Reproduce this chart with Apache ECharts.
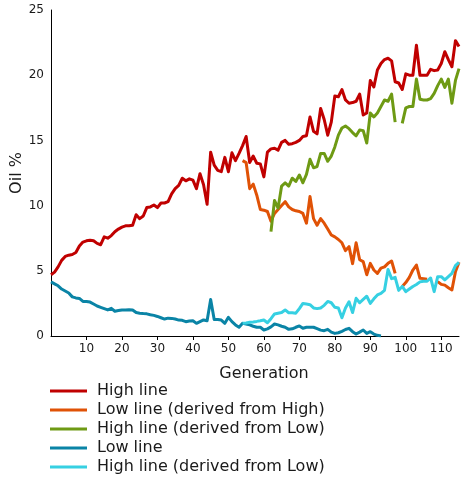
<!DOCTYPE html>
<html>
<head>
<meta charset="utf-8">
<script src="https://cdn.jsdelivr.net/npm/echarts@6/dist/echarts.min.js"></script>
<style>
  html, body { margin: 0; padding: 0; background: #fff; }
  #chart { width: 467px; height: 480px; }
</style>
</head>
<body>
<div id="chart"></div>
<script>
// generation where each series starts
const highStart = 0;
const lowFromHighStart = 54;
const highFromLowStart = 62;
const lowStart = 0;
const highFromLow2Start = 54;

// High line, generations 0..115
const highLine = [
  4.7, 4.9, 5.3, 5.8, 6.1, 6.2, 6.25, 6.4, 6.9, 7.2,
  7.3, 7.35, 7.3, 7.1, 7.0, 7.6, 7.5, 7.7, 8.0, 8.2,
  8.35, 8.45, 8.45, 8.5, 9.3, 9.0, 9.2, 9.85, 9.9, 10.05,
  9.85, 10.2, 10.2, 10.3, 10.9, 11.3, 11.55, 12.1, 11.9, 12.05,
  11.95, 11.3, 12.45, 11.6, 10.1, 14.1, 13.1, 12.7, 12.6, 13.7,
  12.6, 14.05, 13.45, 14.0, 14.6, 15.3, 13.3, 13.8, 13.25, 13.2,
  12.2, 14.1, 14.35, 14.4, 14.25, 14.85, 15.0, 14.7, 14.75, 14.85,
  15.0, 15.3, 15.35, 16.8, 15.7, 15.5, 17.45, 16.6, 15.4, 16.4,
  18.4, 18.35, 18.9, 18.1, 17.85, 17.9, 18.0, 18.55, 16.95, 17.1,
  19.6, 19.1, 20.4, 20.9, 21.2, 21.3, 21.1, 19.5, 19.4, 18.9,
  20.1, 20.0, 20.0, 22.3, 20.0, 20.0, 20.0, 20.45, 20.35, 20.4,
  20.9, 21.8, 21.2, 20.65, 22.65, 22.2
];

// Low line (derived from High), generations 54..115
const lowFromHigh = [
  13.45, 13.3, 11.3, 11.65, 10.8, 9.7,
  9.65, 9.55, 8.8, 9.4, 9.7, 10.0, 10.3, 9.9, 9.7, 9.6,
  9.55, 9.4, 8.65, 10.7, 9.0, 8.5, 9.0, 8.65, 8.2, 7.75,
  7.6, 7.4, 7.15, 6.55, 6.85, 5.55, 7.15, 5.85, 5.7, 4.7,
  5.57, 5.06, 4.8, 5.2, 5.3, 5.57, 5.75, 4.8, null, 3.8,
  4.1, 4.5, 5.06, 5.44, 4.42, 4.4, 4.35, null, null, 4.17,
  3.96, 3.9, 3.7, 3.53, 4.93, 5.65
];

// High line (derived from Low), generations 62..115
const highFromLow = [
  8.0, 10.4, 9.8, 11.5, 11.75, 11.5, 12.1, 11.85,
  12.35, 11.75, 12.4, 13.55, 12.9, 13.0, 14.0, 14.0, 13.4, 13.8,
  14.5, 15.4, 15.95, 16.1, 15.9, 15.6, 15.35, 15.8, 15.75, 14.8,
  17.1, 16.8, 17.1, 17.6, 18.1, 18.0, 18.55, 16.4, null, 16.3,
  17.5, 17.6, 17.6, 19.7, 18.15, 18.1, 18.1, 18.2, 18.6, 19.2,
  19.7, 19.07, 19.7, 17.85, 19.6, 20.5
];

// Low line, generations 0..93
const lowLine = [
  4.15, 4.0, 3.85, 3.6, 3.45, 3.3, 3.0, 2.92, 2.88, 2.65,
  2.65, 2.6, 2.45, 2.3, 2.2, 2.1, 2.0, 2.12, 1.9, 1.95,
  2.0, 2.0, 2.02, 2.0, 1.8, 1.75, 1.72, 1.7, 1.63, 1.58,
  1.5, 1.4, 1.3, 1.37, 1.35, 1.3, 1.22, 1.2, 1.1, 1.15,
  1.17, 0.97, 1.1, 1.23, 1.17, 2.8, 1.27, 1.27, 1.22, 0.97,
  1.43, 1.1, 0.85, 0.67, 0.97, 0.92, 0.85, 0.75, 0.67, 0.67,
  0.46, 0.55, 0.7, 0.92, 0.85, 0.75, 0.67, 0.51, 0.55, 0.67,
  0.77, 0.59, 0.67, 0.67, 0.67, 0.56, 0.45, 0.41, 0.51, 0.3,
  0.2, 0.25, 0.36, 0.5, 0.59, 0.33, 0.15, 0.3, 0.46, 0.2,
  0.33, 0.15, 0.05, 0.0
];

// High line (derived from Low), second one, generations 54..115
const highFromLow2 = [
  0.97, 1.0, 1.05, 1.08, 1.12, 1.17,
  1.23, 1.02, 1.33, 1.69, 1.75, 1.8, 2.0, 1.78, 1.78, 1.75,
  2.1, 2.5, 2.45, 2.4, 2.15, 2.1, 2.15, 2.35, 2.65, 2.55,
  2.2, 2.15, 1.4, 2.15, 2.63, 1.8, 2.89, 2.55, 2.81, 3.05,
  2.5, 2.85, 3.15, 3.27, 3.5, 5.1, 4.4, 4.5, 3.5, 3.8,
  3.4, 3.6, 3.8, 3.95, 4.15, 4.2, 4.2, 4.45, 3.4, 4.55,
  4.55, 4.3, 4.55, 4.8, 5.4, 5.65
];

const xTicks = [10, 20, 30, 40, 50, 60, 70, 80, 90, 100, 110];
const yTicks = [0, 5, 10, 15, 20, 25];

const names = [
  'High line',
  'Low line (derived from High)',
  'High line (derived from Low)',
  'Low line',
  'High line (derived from Low) '   // trailing space keeps a separate legend entry
];
const colors = ['#c00000', '#e05206', '#6e9a14', '#0a84a6', '#36d0e2'];

function toPoints(start, values) {
  return values.map((v, i) => [start + i, v == null ? '-' : v]);
}

const seriesData = [
  toPoints(highStart, highLine),
  toPoints(lowFromHighStart, lowFromHigh),
  toPoints(highFromLowStart, highFromLow),
  toPoints(lowStart, lowLine),
  toPoints(highFromLow2Start, highFromLow2)
];

const font = 'DejaVu Sans';
const chart = echarts.init(document.getElementById('chart'), null, { renderer: 'canvas' });

chart.setOption({
  animation: false,
  textStyle: { fontFamily: font },
  grid: {
    left: 51, right: 8, top: 10, bottom: 144,
    containLabel: false,
    outerBoundsMode: 'none'
  },
  legend: {
    orient: 'vertical',
    left: 50,
    top: 383,
    padding: 0,
    height: 97,
    icon: 'rect',
    itemWidth: 37,
    itemHeight: 3,
    itemGap: 3,
    data: names,
    textStyle: { fontFamily: font, fontSize: 16, color: '#1a1a1a', lineHeight: 16, padding: [0, 0, 0, 5] }
  },
  xAxis: {
    type: 'value',
    min: 0,
    max: 115,
    interval: 10,
    name: 'Generation',
    nameLocation: 'middle',
    nameGap: 30,
    nameMoveOverlap: false,
    nameTextStyle: { fontFamily: font, fontSize: 16, color: '#1a1a1a', padding: [0, 0, 0, 18] },
    axisLine: { show: true, lineStyle: { color: '#000', width: 1 } },
    axisTick: { show: true, length: 4, lineStyle: { color: '#000' }, customValues: xTicks },
    axisLabel: {
      fontFamily: font, fontSize: 12, color: '#1a1a1a', margin: 7,
      customValues: xTicks,
      formatter: v => (v % 10 === 0 && v > 0 && v <= 110) ? String(v) : ''
    },
    splitLine: { show: false }
  },
  yAxis: {
    type: 'value',
    min: 0,
    max: 25,
    interval: 5,
    name: 'Oil %',
    nameLocation: 'middle',
    nameGap: 26,
    nameMoveOverlap: false,
    nameTextStyle: { fontFamily: font, fontSize: 16, color: '#1a1a1a' },
    axisLine: { show: true, lineStyle: { color: '#000', width: 1 } },
    axisTick: { show: false },
    axisLabel: { fontFamily: font, fontSize: 12, color: '#1a1a1a', margin: 7, customValues: yTicks },
    splitLine: { show: false }
  },
  series: seriesData.map((d, i) => ({
    name: names[i],
    type: 'line',
    data: d,
    showSymbol: false,
    symbol: 'none',
    connectNulls: false,
    color: colors[i],
    lineStyle: { color: colors[i], width: 3, join: 'round' },
    z: 2 + i
  }))
});
</script>
</body>
</html>
